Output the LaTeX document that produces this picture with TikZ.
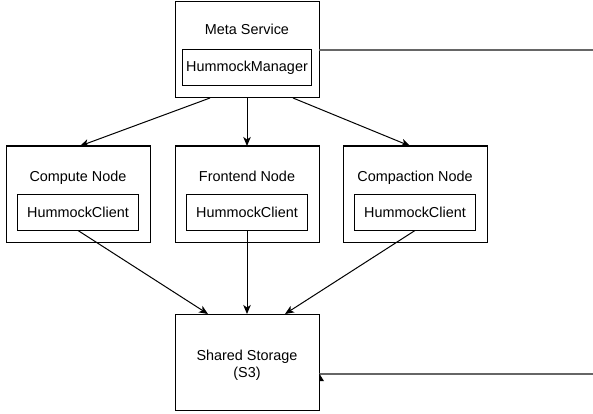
\documentclass[tikz,border=0pt]{standalone}
\usepackage{fontspec}
\setmainfont{Liberation Sans}
\usepackage{tikz}
\usetikzlibrary{arrows.meta, positioning, calc}
\tikzset{
  outerbox/.style={rectangle, draw, line width=1pt, minimum width=144pt,
                   minimum height=96pt, outer sep=0pt},
  innerbox/.style={rectangle, draw, line width=1pt, minimum width=121pt,
                   minimum height=36pt, inner sep=0pt, outer sep=0pt,
                   font=\fontsize{14.4}{17.3}\selectfont},
  titletext/.style={font=\fontsize{14.4}{17.3}\selectfont, inner sep=0pt, anchor=base},
  arrow/.style={-{Stealth[length=9pt, width=7.5pt, inset=2.5pt]}, line width=1pt},
  sidelink/.style={draw=black!60, line width=1.8pt},
}

\begin{document}
\begin{tikzpicture}[x=1pt, y=1pt]
  \useasboundingbox (0,0) rectangle (593,-414);

  % --- meta service on top ---
  \node[outerbox] (meta) at (247,-50) {};
  \node[titletext] (metatitle) at ([yshift=-33pt]meta.north) {Meta Service};
  \node[innerbox, minimum width=129pt, above=12pt of meta.south] (metamgr) {HummockManager};

  % --- worker nodes ---
  \node[outerbox, below=48pt of meta] (frontend) {};
  \node[outerbox, left=25pt of frontend] (compute) {};
  \node[outerbox, right=24pt of frontend] (compaction) {};

  \node[titletext] (computetitle) at ([yshift=-35pt]compute.north) {Compute Node};
  \node[titletext] (frontendtitle) at ([yshift=-35pt]frontend.north) {Frontend Node};
  \node[titletext] (compactiontitle) at ([yshift=-35pt]compaction.north) {Compaction Node};

  \node[innerbox, above=11.5pt of compute.south] (computeclient) {HummockClient};
  \node[innerbox, above=11.5pt of frontend.south] (frontendclient) {HummockClient};
  \node[innerbox, above=11.5pt of compaction.south] (compactionclient) {HummockClient};

  % --- storage ---
  \node[outerbox, below=72pt of frontend] (shared) {};
  \node[titletext, anchor=center, align=center] (sharedtitle)
    at ([yshift=-3pt]shared.center) {Shared Storage\\(S3)};

  \draw[arrow] ([xshift=-37pt]meta.south) -- ([xshift=2pt]compute.north);
  \draw[arrow] (meta.south) -- (frontend.north);
  \draw[arrow] ([xshift=46pt]meta.south) -- ([xshift=-5pt]compaction.north);

  \draw[arrow] (computeclient.south) -- ([xshift=-39pt]shared.north);
  \draw[arrow] (frontendclient.south) -- (shared.north);
  \draw[arrow] (compactionclient.south) -- ([xshift=38pt]shared.north);

  % --- links leaving the picture on the right ---
  \coordinate (metaout) at (593,-50);
  \coordinate (storein) at (593,-374);
  \draw[sidelink] (meta.east) -- (metaout);
  \draw[sidelink] (storein) -- (storein -| shared.east);
  \fill ([yshift=0.9pt]storein -| shared.east) -- ++(0,-8pt) -- ++(5pt,0) -- cycle;
\end{tikzpicture}
\end{document}
